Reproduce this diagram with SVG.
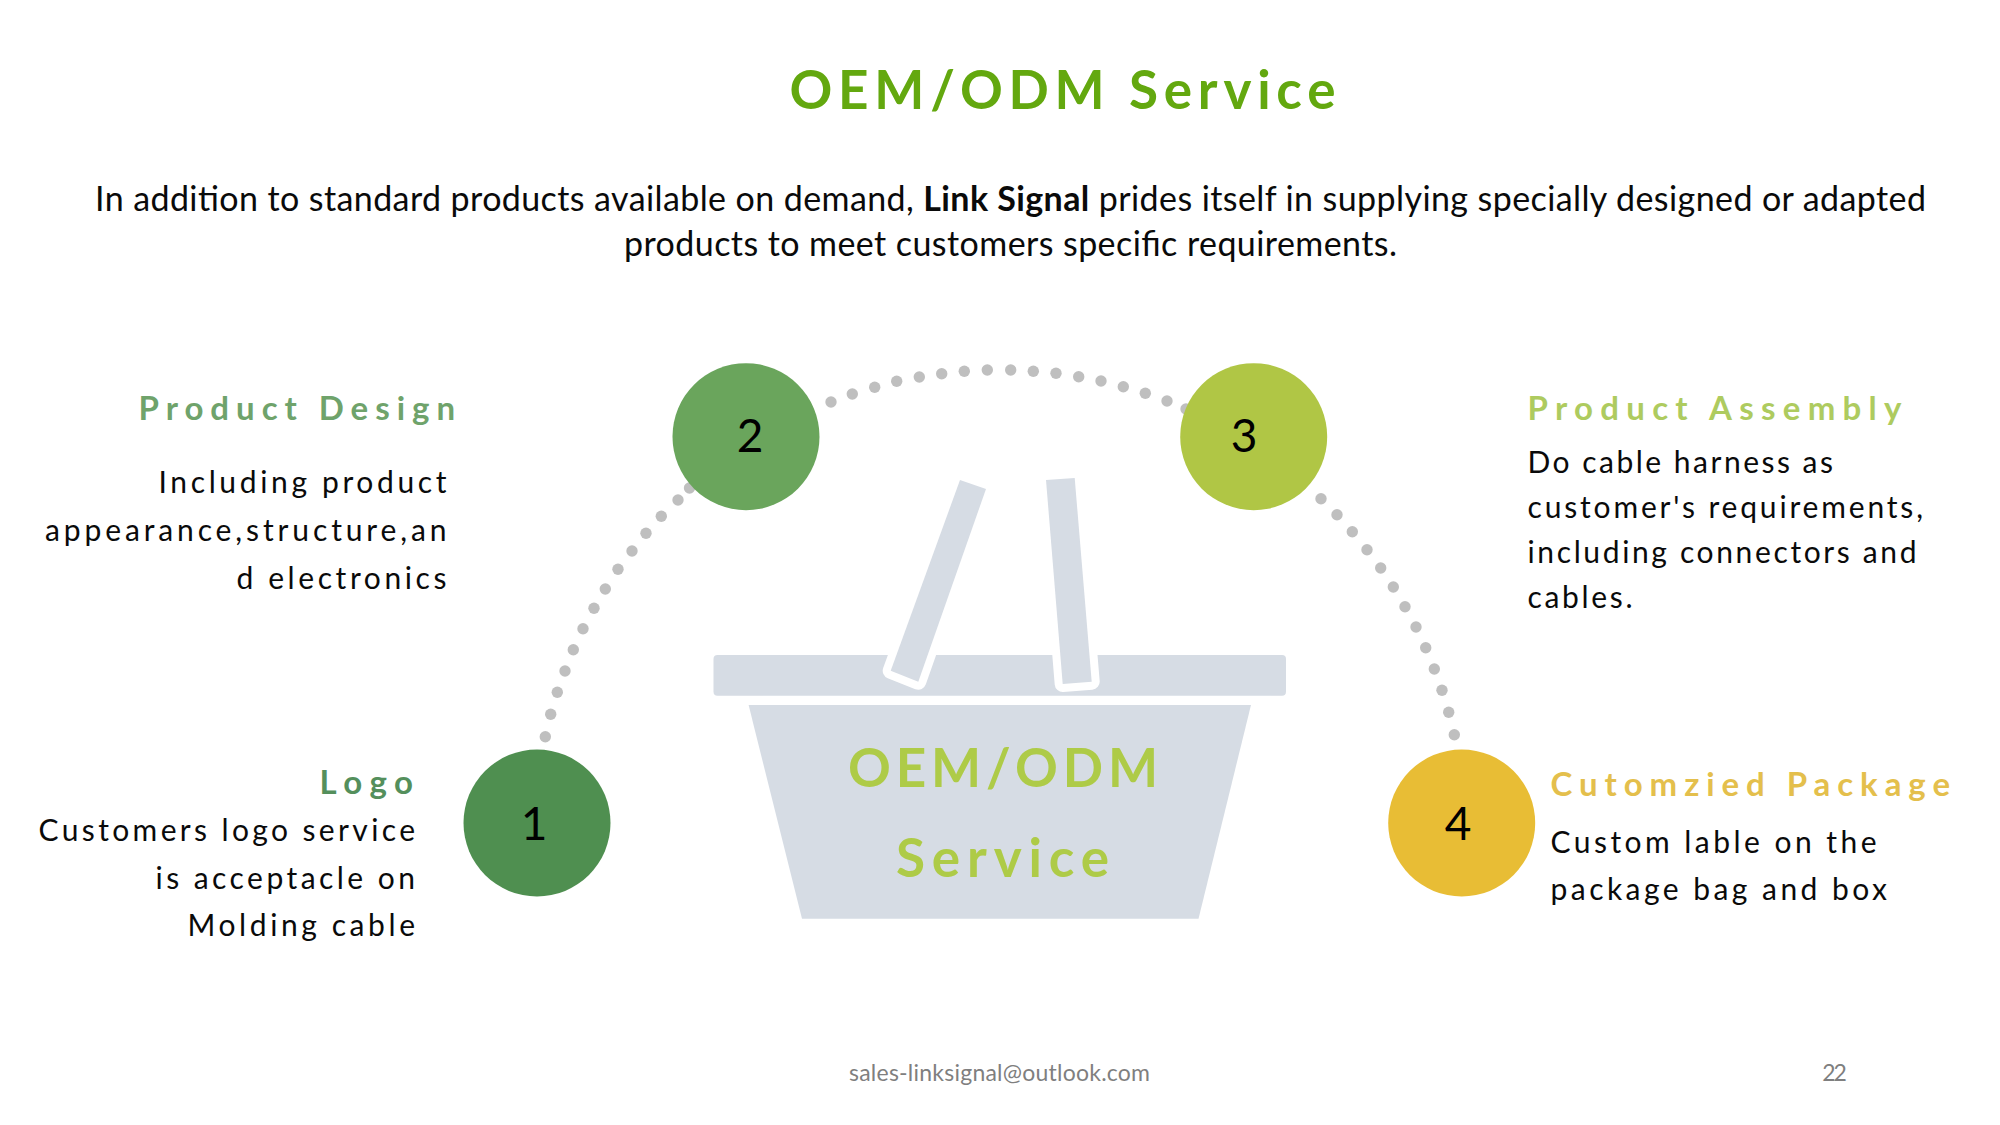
<svg xmlns="http://www.w3.org/2000/svg" width="2000" height="1125" viewBox="0 0 2000 1125">
<style>
text{font-family:"Lato","Open Sans","Liberation Sans",sans-serif}
.dot{fill:#bfbfbf}
.bk{fill:#d6dce4}
.hd{fill:#d6dce4;stroke:#fff;stroke-width:16;stroke-linejoin:round;paint-order:stroke}
.h{font-size:33px;font-weight:700}
.b{font-size:30px;fill:#0a0a0a}
.n{font-size:46px;fill:#000;text-anchor:middle}
.p{font-size:34px;fill:#0a0a0a}
.f{font-size:23px;fill:#7f7f7f}
.c{font-size:53px;font-weight:700;fill:#aecb47}
</style>
<rect width="2000" height="1125" fill="#fff"/>
<text id="title" x="789.5" y="109" textLength="546" lengthAdjust="spacing" font-size="53" font-weight="700" fill="#63a80f">OEM/ODM Service</text>
<text class="p" x="95" y="211" textLength="1831" lengthAdjust="spacing">In addition to standard products available on demand, <tspan font-weight="700">Link Signal</tspan> prides itself in supplying specially designed or adapted</text>
<text class="p" x="624" y="256" textLength="773" lengthAdjust="spacing">products to meet customers specific requirements.</text>
<g id="connectors">
<circle class="dot" cx="545.3" cy="736.7" r="5.7"/><circle class="dot" cx="550.7" cy="714.3" r="5.7"/><circle class="dot" cx="557.3" cy="692.3" r="5.7"/><circle class="dot" cx="565" cy="671" r="5.7"/><circle class="dot" cx="573.3" cy="649.7" r="5.7"/><circle class="dot" cx="583" cy="628.7" r="5.7"/><circle class="dot" cx="594" cy="608.3" r="5.7"/><circle class="dot" cx="605.3" cy="589" r="5.7"/><circle class="dot" cx="618" cy="569.3" r="5.7"/><circle class="dot" cx="632" cy="551" r="5.7"/><circle class="dot" cx="646" cy="533.3" r="5.7"/><circle class="dot" cx="661.3" cy="516.3" r="5.7"/><circle class="dot" cx="678" cy="500" r="5.7"/><circle class="dot" cx="689.5" cy="488" r="5.7"/>
<circle class="dot" cx="808" cy="412" r="5.7"/><circle class="dot" cx="831" cy="402" r="5.7"/><circle class="dot" cx="852.3" cy="394" r="5.7"/><circle class="dot" cx="874.7" cy="387.3" r="5.7"/><circle class="dot" cx="896.7" cy="381.3" r="5.7"/><circle class="dot" cx="919.3" cy="377" r="5.7"/><circle class="dot" cx="941.7" cy="373.7" r="5.7"/><circle class="dot" cx="964.3" cy="371.3" r="5.7"/><circle class="dot" cx="987.3" cy="370" r="5.7"/>
<circle class="dot" cx="1010.7" cy="370" r="5.7"/><circle class="dot" cx="1033.3" cy="371.3" r="5.7"/><circle class="dot" cx="1056" cy="373.3" r="5.7"/><circle class="dot" cx="1078.7" cy="376.7" r="5.7"/><circle class="dot" cx="1101" cy="381" r="5.7"/><circle class="dot" cx="1123.3" cy="386.7" r="5.7"/><circle class="dot" cx="1145.3" cy="393.3" r="5.7"/><circle class="dot" cx="1167" cy="401" r="5.7"/><circle class="dot" cx="1186" cy="409" r="5.7"/>
<circle class="dot" cx="1321" cy="498.7" r="5.7"/><circle class="dot" cx="1337" cy="514.7" r="5.7"/><circle class="dot" cx="1352.3" cy="531.7" r="5.7"/><circle class="dot" cx="1367" cy="549.7" r="5.7"/><circle class="dot" cx="1380.7" cy="568" r="5.7"/><circle class="dot" cx="1393.3" cy="587" r="5.7"/><circle class="dot" cx="1405" cy="606.7" r="5.7"/><circle class="dot" cx="1416" cy="627" r="5.7"/><circle class="dot" cx="1425.7" cy="647.7" r="5.7"/><circle class="dot" cx="1434.3" cy="669" r="5.7"/><circle class="dot" cx="1442" cy="690.3" r="5.7"/><circle class="dot" cx="1448.7" cy="712.3" r="5.7"/><circle class="dot" cx="1454.3" cy="734.7" r="5.7"/>
</g>
<g id="basket">
<rect class="bk" x="713.5" y="655" width="572.5" height="40.7" rx="4"/>
<polygon class="bk" points="748.6,705 1251,705 1198.5,918.8 802,918.8"/>
<polygon class="hd" points="960,480 986,489 918.3,681.7 890.7,670.7"/>
<polygon class="hd" points="1046,480 1074.7,478 1091.7,681.7 1062.7,684"/>
<text class="c" x="848" y="786.5" textLength="310" lengthAdjust="spacing">OEM/ODM</text>
<text class="c" x="896" y="877" textLength="213" lengthAdjust="spacing">Service</text>
</g>
<g id="node-1">
<circle cx="537" cy="823" r="73.5" fill="#4f8f50"/>
<text class="n" x="534" y="840">1</text>
<text class="h" fill="#548f5c" x="319.5" y="794" textLength="93.5" lengthAdjust="spacing">Logo</text>
<text class="b" x="38.5" y="840.5" textLength="376.5" lengthAdjust="spacing">Customers logo service</text>
<text class="b" x="155.5" y="889" textLength="259.5" lengthAdjust="spacing">is acceptacle on</text>
<text class="b" x="187.5" y="936" textLength="227.5" lengthAdjust="spacing">Molding cable</text>
</g>
<g id="node-2">
<circle cx="746" cy="436.7" r="73.5" fill="#6aa55c"/>
<text class="n" x="750" y="451.7">2</text>
<text class="h" fill="#6fa36b" x="138.5" y="420" textLength="316.5" lengthAdjust="spacing">Product Design</text>
<text class="b" x="158.5" y="492.7" textLength="288" lengthAdjust="spacing">Including product</text>
<text class="b" x="45" y="541" textLength="401.5" lengthAdjust="spacing">appearance,structure,an</text>
<text class="b" x="236.5" y="588.7" textLength="210" lengthAdjust="spacing">d electronics</text>
</g>
<g id="node-3">
<circle cx="1253.7" cy="436.7" r="73.5" fill="#b0c645"/>
<text class="n" x="1244" y="451.7">3</text>
<text class="h" fill="#aecb5f" x="1527.5" y="420" textLength="374" lengthAdjust="spacing">Product Assembly</text>
<text class="b" x="1527.5" y="472.7" textLength="305.5" lengthAdjust="spacing">Do cable harness as</text>
<text class="b" x="1527.5" y="518" textLength="395.5" lengthAdjust="spacing">customer's requirements,</text>
<text class="b" x="1527.5" y="562.7" textLength="389" lengthAdjust="spacing">including connectors and</text>
<text class="b" x="1527.5" y="607.7" textLength="105" lengthAdjust="spacing">cables.</text>
</g>
<g id="node-4">
<circle cx="1461.7" cy="823" r="73.5" fill="#e8bd35"/>
<text class="n" x="1458" y="840">4</text>
<text class="h" fill="#e4bf4c" x="1550.5" y="795.5" textLength="399.5" lengthAdjust="spacing">Cutomzied Package</text>
<text class="b" x="1550.5" y="852.7" textLength="326" lengthAdjust="spacing">Custom lable on the</text>
<text class="b" x="1550.5" y="900" textLength="336.5" lengthAdjust="spacing">package bag and box</text>
</g>
<text class="f" x="849" y="1080.7" textLength="301" lengthAdjust="spacing">sales-linksignal@outlook.com</text>
<text class="f" x="1822.3" y="1080.7" textLength="24.5" lengthAdjust="spacing">22</text>
</svg>
